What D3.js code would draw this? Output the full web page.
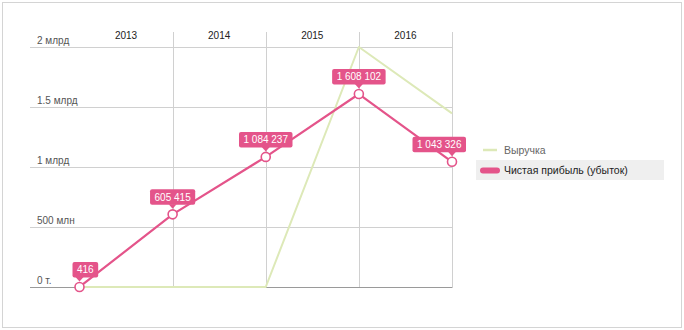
<!DOCTYPE html>
<html><head><meta charset="utf-8">
<script src="https://cdn.jsdelivr.net/npm/d3@7"></script>
<style>
html,body{margin:0;padding:0;background:#fff;}
svg{display:block;font-family:"Liberation Sans",Arial,Helvetica,sans-serif;}
</style></head><body>
<svg id="c" width="684" height="330"></svg>
<script>
const periods = ["2012","2013","2014","2015","2016"];
const columnLabels = ["2013","2014","2015","2016"];
const revenue = [0, 0, 0, 2000000000, 1447000000];
const profit = [416000, 605415000, 1084237000, 1608102000, 1043326000];
const profitLabels = ["416","605 415","1 084 237","1 608 102","1 043 326"];
const yTicks = [0, 500000000, 1000000000, 1500000000, 2000000000];
const yTickLabels = ["0 т.","500 млн","1 млрд","1.5 млрд","2 млрд"];
const seriesNames = ["Выручка","Чистая прибыль (убыток)"];

const pink = "#e4548a", green = "#dde9b8";
const svg = d3.select("#c");
svg.append("rect").attr("x",2.5).attr("y",2.5).attr("width",679).attr("height",325)
  .attr("fill","#fff").attr("stroke","#d4d4d4");

const x = d3.scalePoint().domain(periods).range([79.5, 452]);
const y = d3.scaleLinear().domain([0, 2000000000]).range([287, 47]);
const gridLeft = 30, gridTop = 32;

// horizontal gridlines & labels
const yAxis = svg.append("g");
yTicks.forEach((t,i)=>{
  yAxis.append("line").attr("x1",gridLeft).attr("x2",452.5)
    .attr("y1",Math.round(y(t))+0.5).attr("y2",Math.round(y(t))+0.5)
    .attr("stroke", t===0 ? "#9a9a9a" : "#d0d0d0").attr("stroke-width",1);
  yAxis.append("text").attr("x",37).attr("y",y(t)-3.5)
    .attr("font-size",10).attr("fill","#555").text(yTickLabels[i]);
});
// vertical gridlines
periods.slice(1).forEach(p=>{
  const xx = Math.round(x(p))+0.5;
  svg.append("line").attr("x1",xx).attr("x2",xx).attr("y1",gridTop).attr("y2",287)
    .attr("stroke","#d0d0d0");
});
// column labels
columnLabels.forEach((c,i)=>{
  const cx = (x(periods[i]) + x(periods[i+1]))/2;
  svg.append("text").attr("x",cx).attr("y",38.5).attr("text-anchor","middle")
    .attr("font-size",10).attr("fill","#222").text(c);
});

const line = d3.line().x((d,i)=>x(periods[i])).y(d=>y(d));
svg.append("path").datum(revenue).attr("d",line).attr("fill","none")
  .attr("stroke",green).attr("stroke-width",2).attr("stroke-linejoin","round");
svg.append("path").datum(profit).attr("d",line).attr("fill","none")
  .attr("stroke",pink).attr("stroke-width",2.2).attr("stroke-linejoin","round");
profit.forEach((v,i)=>{
  svg.append("circle").attr("cx",x(periods[i])).attr("cy",y(v)).attr("r",4.5)
    .attr("fill","#fff").attr("stroke",pink).attr("stroke-width",1.6);
});

// data labels
const minL = x(periods[0]) - 7, maxR = x(periods[periods.length-1]) + 14;
profit.forEach((v,i)=>{
  const px = x(periods[i]), py = y(v);
  const g = svg.append("g");
  const t = g.append("text").attr("font-size",10).attr("fill","#fff")
    .attr("text-anchor","middle").text(profitLabels[i]);
  const w = t.node().getComputedTextLength() + 9;
  let left = px - w/2;
  if (left < minL) left = minL;
  if (left + w > maxR) left = maxR - w;
  const bottom = py - 9.5, h = 15.5;
  g.insert("rect","text").attr("x",left).attr("y",bottom-h).attr("width",w).attr("height",h)
    .attr("rx",2).attr("fill",pink);
  g.insert("path","text").attr("d",`M${px-4},${bottom-0.5} L${px+4},${bottom-0.5} L${px},${bottom+4} Z`)
    .attr("fill",pink);
  t.attr("x",left+w/2).attr("y",bottom-4.3);
});

// legend
const lg = svg.append("g");
lg.append("line").attr("x1",483).attr("x2",497).attr("y1",150).attr("y2",150)
  .attr("stroke",green).attr("stroke-width",2.5);
lg.append("text").attr("x",504).attr("y",153.8).attr("font-size",10.5).attr("fill","#666").text(seriesNames[0]);
lg.append("rect").attr("x",476).attr("y",160).attr("width",188).attr("height",20).attr("fill","#efefef");
lg.append("rect").attr("x",480).attr("y",167.5).attr("width",20).attr("height",6).attr("rx",3).attr("fill",pink);
lg.append("text").attr("x",504).attr("y",174.3).attr("font-size",10.5).attr("fill","#222").text(seriesNames[1]);
</script></body></html>
